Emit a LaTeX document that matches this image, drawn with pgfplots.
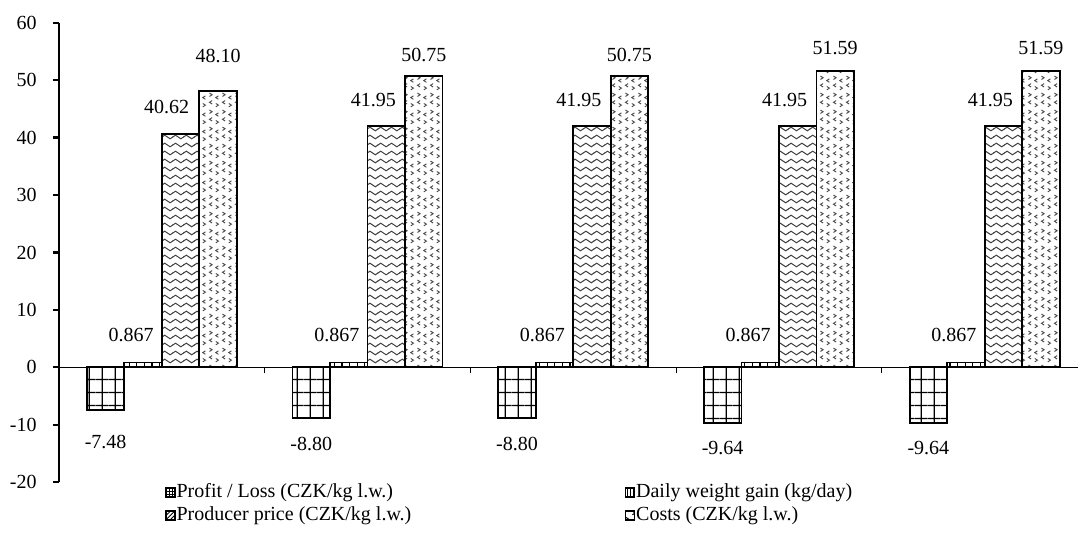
\documentclass[border=0pt]{standalone}
\usepackage{fontspec}
\setmainfont{Liberation Serif}
\usepackage{pgfplots}
\pgfplotsset{compat=1.18}
\usepackage{pgfplotstable}
\usetikzlibrary{patterns,patterns.meta}

% wavy horizontal lines
\pgfdeclarepatternformonly{waves}{\pgfpoint{-0.2pt}{0pt}}{\pgfpoint{5.6pt}{4pt}}{\pgfpoint{5.4pt}{4pt}}{
  \pgfsetlinewidth{0.5pt}
  \pgfpathmoveto{\pgfpoint{-0.2pt}{2pt}}
  \pgfpathlineto{\pgfpoint{0pt}{2pt}}
  \pgfpathsine{\pgfpoint{1.35pt}{0.9pt}}
  \pgfpathcosine{\pgfpoint{1.35pt}{-0.9pt}}
  \pgfpathsine{\pgfpoint{1.35pt}{-0.9pt}}
  \pgfpathcosine{\pgfpoint{1.35pt}{0.9pt}}
  \pgfpathlineto{\pgfpoint{5.6pt}{2pt}}
  \pgfusepath{stroke}
}
% scattered small chevrons
\pgfdeclarepatternformonly{chevrons}{\pgfpointorigin}{\pgfpoint{6.5pt}{8.5pt}}{\pgfpoint{6.5pt}{8.5pt}}{
  \pgfsetlinewidth{0.5pt}
  \pgfpathmoveto{\pgfpoint{0.8pt}{7.9pt}}\pgfpathlineto{\pgfpoint{2.2pt}{7pt}}\pgfpathlineto{\pgfpoint{0.8pt}{6.1pt}}
  \pgfpathmoveto{\pgfpoint{5.6pt}{6.4pt}}\pgfpathlineto{\pgfpoint{4.2pt}{5.5pt}}\pgfpathlineto{\pgfpoint{5.6pt}{4.6pt}}
  \pgfpathmoveto{\pgfpoint{2.2pt}{3.9pt}}\pgfpathlineto{\pgfpoint{0.8pt}{3pt}}\pgfpathlineto{\pgfpoint{2.2pt}{2.1pt}}
  \pgfpathmoveto{\pgfpoint{4.2pt}{2.4pt}}\pgfpathlineto{\pgfpoint{5.6pt}{1.5pt}}\pgfpathlineto{\pgfpoint{4.2pt}{0.6pt}}
  \pgfusepath{stroke}
}

% x = category, y = value, dx/dy = label offset from the bar end (pt)
\pgfplotstableread{
x y dx dy
0 -7.48 0 -16
1 -8.80 0 -13
2 -8.80 0 -13
3 -9.64 0 -12.8
4 -9.64 0 -12.8
}\profit
\pgfplotstableread{
x y dx dy
0 0.867 -6 13.5
1 0.867 -6 13.5
2 0.867 -6 13.5
3 0.867 -6 13.5
4 0.867 -6 13.5
}\gain
\pgfplotstableread{
x y dx dy
0 40.62 -7 13.5
1 41.95 -6.5 13
2 41.95 -6.5 13
3 41.95 -6.5 13
4 41.95 -6.5 13
}\price
\pgfplotstableread{
x y dx dy
0 48.10 0 17.5
1 50.75 0 10.5
2 50.75 0 10.5
3 51.59 0 11.7
4 51.59 0 11.7
}\costs

% #1 = label precision, #2 = bar shift in pt
\pgfplotsset{
  catbar/.style 2 args={
    ybar, bar width=18.75pt, bar shift=#2pt,
    draw=black, line width=0.9pt, forget plot,
    visualization depends on={\thisrow{dx}\as\labeldx},
    visualization depends on={\thisrow{dy}\as\labeldy},
    nodes near coords={\pgfmathprintnumber[fixed,fixed zerofill,precision=#1]{\pgfplotspointmeta}},
    every node near coord/.append style={anchor=center, inner sep=0pt,
      xshift=#2pt+\labeldx pt, yshift=\labeldy pt, black},
  },
  legsquare/.style={legend image code/.code={
      \draw[#1, line width=0.8pt] (0pt,-2.25pt) rectangle (4.5pt,2.25pt);}},
}

\begin{document}
\begin{tikzpicture}
\path[use as bounding box] (-29.5pt,-25.35pt) rectangle (509.5pt,241.15pt);
\begin{axis}[
  at={(0,0)}, anchor=south west,
  scale only axis, width=509.5pt, height=229.8pt,
  font=\fontsize{10}{12}\selectfont,
  /pgf/number format/assume math mode=true,
  clip=false,
  xmin=-0.5, xmax=4.454,
  ymin=-20, ymax=60,
  ytick={-20,-10,...,60},
  xtick={0.5,1.5,2.5,3.5},
  xticklabels={},
  axis y line*=left,
  axis x line*=middle,
  x axis line style={line width=0.5pt,-},
  y axis line style={line width=1.1pt,-},
  tick align=outside,
  major tick length=3pt,
  x tick style={line width=0.5pt,black},
  y tick style={line width=1.1pt,black},
  yticklabel style={inner sep=0pt, anchor=east, xshift=-8pt},
  legend columns=2,
  legend style={at={(0.104,0)}, anchor=north west, draw=none, fill=none,
    inner sep=0pt, outer sep=0pt, /tikz/column sep=0pt, /tikz/row sep=1.5pt,
    nodes={inner sep=0.5pt, text height=7pt, text depth=2pt, anchor=west}},
  legend cell align=left,
]
\addplot[catbar={2}{-28.13},
  pattern={Hatch[angle=0,distance=6.4pt,line width=0.6pt]}, pattern color=black]
  table[x=x,y=y]{\profit};
\addplot[catbar={3}{-9.38},
  pattern={Lines[angle=90,distance=3.8pt,line width=0.6pt]}, pattern color=black]
  table[x=x,y=y]{\gain};
\addplot[catbar={2}{9.38},
  pattern=waves, pattern color=black!75]
  table[x=x,y=y]{\price};
\addplot[catbar={2}{28.13},
  pattern=chevrons, pattern color=black!70]
  table[x=x,y=y]{\costs};

\addlegendimage{legsquare, pattern={Hatch[angle=0,distance=1.6pt,line width=0.4pt]}, pattern color=black}
\addlegendentry{\makebox[223.5pt][l]{Profit / Loss (CZK/kg l.w.)}}
\addlegendimage{legsquare, pattern={Lines[angle=90,distance=1.5pt,line width=0.5pt]}, pattern color=black}
\addlegendentry{Daily weight gain (kg/day)}
\addlegendimage{legsquare, pattern={Lines[angle=45,distance=1.5pt,line width=0.4pt]}, pattern color=black}
\addlegendentry{\makebox[223.5pt][l]{Producer price (CZK/kg l.w.)}}
\addlegendimage{legsquare, pattern=chevrons, pattern color=black}
\addlegendentry{Costs (CZK/kg l.w.)}
\end{axis}
\end{tikzpicture}
\end{document}
